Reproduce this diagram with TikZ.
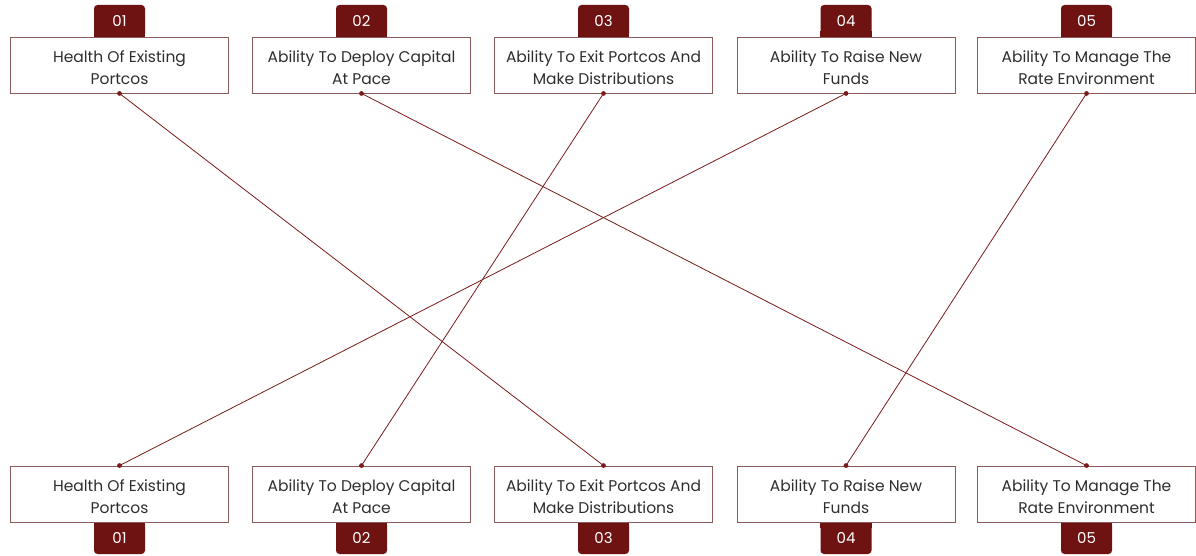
\documentclass[tikz,border=0pt]{standalone}
\usepackage{fontspec}
\setmainfont{Poppins}
\usetikzlibrary{calc}
\definecolor{tabc}{HTML}{6E1212}
\definecolor{boxc}{HTML}{8C5A5A}
\definecolor{linec}{HTML}{7A1C1C}
\definecolor{txtc}{HTML}{2E2E2E}
\begin{document}
\begin{tikzpicture}[x=1pt,y=1pt,
  card/.style={draw=boxc,line width=0.9pt,fill=white,minimum width=218pt,minimum height=56pt,inner sep=0pt},
  cardtext/.style={align=center,text=txtc,font=\fontsize{15.5}{22}\selectfont,inner sep=0pt},
  tab/.style={fill=tabc,rounded corners=3.5pt,minimum width=51pt,minimum height=32pt,
    text=white,font=\fontsize{15}{16}\selectfont,inner sep=0pt},
  link/.style={draw=linec,line width=0.8pt},
  dot/.style={fill=linec}]
\useasboundingbox (0,0) rectangle (1196,555);
\fill[white] (0,0) rectangle (1196,555);
\foreach \i/\x/\t in {1/119.5/{Health Of Existing\\Portcos},2/361.5/{Ability To Deploy Capital\\At Pace},3/603.5/{Ability To Exit Portcos And\\Make Distributions},4/846/{Ability To Raise New\\Funds},5/1086.5/{Ability To Manage The\\Rate Environment}}{
  \node[tab] (ta\i) at (\x,534) {0\i};
  \fill[tabc] (ta\i.south west) rectangle ($(ta\i.south east)+(0,6)$);
  \node[card] (a\i) at (\x,490) {};
  \node[cardtext] (la\i) at ($(a\i.center)+(0,-2.5)$) {\t};
  \node[tab] (tb\i) at (\x,17) {0\i};
  \fill[tabc] (tb\i.north west) rectangle ($(tb\i.north east)+(0,-6)$);
  \node[card] (b\i) at (\x,61) {};
  \node[cardtext] (lb\i) at ($(b\i.center)+(0,-2.5)$) {\t};
}
\draw[link] (a1.south) -- (b3.north);
\draw[link] (a2.south) -- (b5.north);
\draw[link] (a3.south) -- (b2.north);
\draw[link] (a4.south) -- (b1.north);
\draw[link] (a5.south) -- (b4.north);
\foreach \i in {1,...,5}{
  \fill[dot] (a\i.south) circle (2.4pt);
  \fill[dot] (b\i.north) circle (2.4pt);
}
\end{tikzpicture}
\end{document}
